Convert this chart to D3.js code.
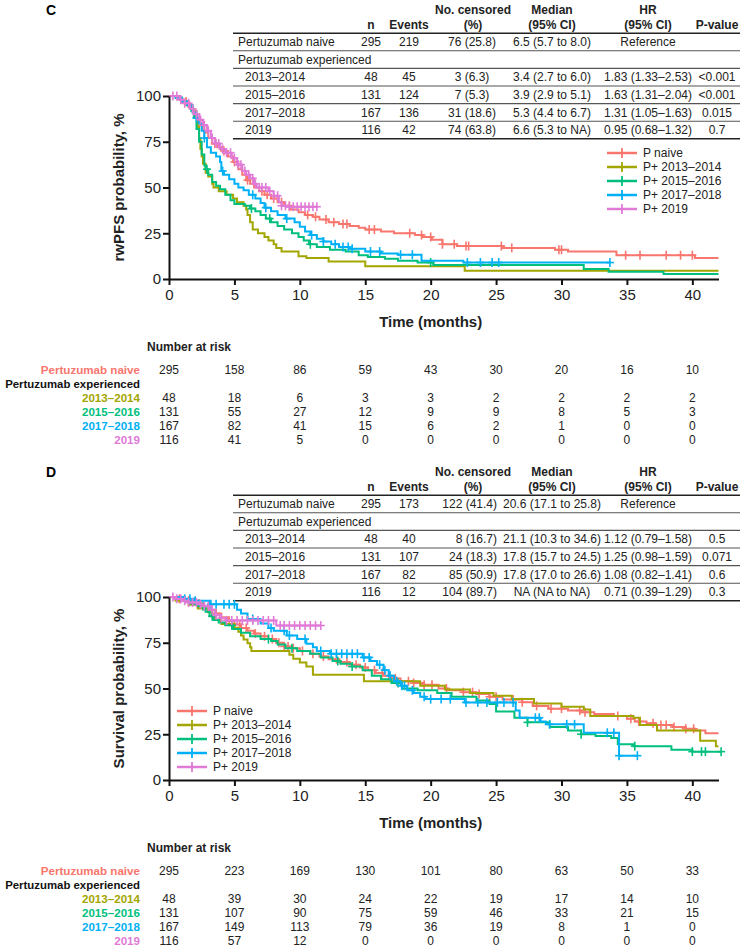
<!DOCTYPE html>
<html><head><meta charset="utf-8">
<script src="https://cdn.jsdelivr.net/npm/d3@7"></script>
<style>
body{margin:0;background:#fff}
svg{display:block}
text{font-family:"Liberation Sans",Arial,Helvetica,sans-serif}
</style>
</head><body>
<svg id="chart" width="742" height="950"></svg>
<script>
// ---------------- DATA ----------------
const seriesNames = ["P naive", "P+ 2013\u20132014", "P+ 2015\u20132016", "P+ 2017\u20132018", "P+ 2019"];
const riskLabels = ["Pertuzumab naive", "2013\u20132014", "2015\u20132016", "2017\u20132018", "2019"];
const seriesColors = ["#F8766D", "#A3A500", "#00BF7D", "#00B0F6", "#E07AD6"];
const timeTicks = [0, 5, 10, 15, 20, 25, 30, 35, 40];
const survTicks = [0, 25, 50, 75, 100];

const tableHeader1 = ["", "", "", "No. censored", "Median", "HR", ""];
const tableHeader2 = ["", "n", "Events", "(%)", "(95% CI)", "(95% CI)", "P-value"];

const pfsTable = [
  ["Pertuzumab naive", "295", "219", "76 (25.8)", "6.5 (5.7 to 8.0)", "Reference", ""],
  ["Pertuzumab experienced"],
  ["2013\u20132014", "48", "45", "3 (6.3)", "3.4 (2.7 to 6.0)", "1.83 (1.33\u20132.53)", "<0.001"],
  ["2015\u20132016", "131", "124", "7 (5.3)", "3.9 (2.9 to 5.1)", "1.63 (1.31\u20132.04)", "<0.001"],
  ["2017\u20132018", "167", "136", "31 (18.6)", "5.3 (4.4 to 6.7)", "1.31 (1.05\u20131.63)", "0.015"],
  ["2019", "116", "42", "74 (63.8)", "6.6 (5.3 to NA)", "0.95 (0.68\u20131.32)", "0.7"]
];
const osTable = [
  ["Pertuzumab naive", "295", "173", "122 (41.4)", "20.6 (17.1 to 25.8)", "Reference", ""],
  ["Pertuzumab experienced"],
  ["2013\u20132014", "48", "40", "8 (16.7)", "21.1 (10.3 to 34.6)", "1.12 (0.79\u20131.58)", "0.5"],
  ["2015\u20132016", "131", "107", "24 (18.3)", "17.8 (15.7 to 24.5)", "1.25 (0.98\u20131.59)", "0.071"],
  ["2017\u20132018", "167", "82", "85 (50.9)", "17.8 (17.0 to 26.6)", "1.08 (0.82\u20131.41)", "0.6"],
  ["2019", "116", "12", "104 (89.7)", "NA (NA to NA)", "0.71 (0.39\u20131.29)", "0.3"]
];

const pfsRisk = [
  [295, 158, 86, 59, 43, 30, 20, 16, 10],
  [48, 18, 6, 3, 3, 2, 2, 2, 2],
  [131, 55, 27, 12, 9, 9, 8, 5, 3],
  [167, 82, 41, 15, 6, 2, 1, 0, 0],
  [116, 41, 5, 0, 0, 0, 0, 0, 0]
];
const osRisk = [
  [295, 223, 169, 130, 101, 80, 63, 50, 33],
  [48, 39, 30, 24, 22, 19, 17, 14, 10],
  [131, 107, 90, 75, 59, 46, 33, 21, 15],
  [167, 149, 113, 79, 36, 19, 8, 1, 0],
  [116, 57, 12, 0, 0, 0, 0, 0, 0]
];

// Kaplan-Meier steps [time (months), survival %] for rwPFS (panel C)
const pfsNaive = [[0,100],[0.5,99],[1.0,97],[1.4,95],[1.8,92],[2.1,88],[2.4,84],[2.7,80],[3.0,77],[3.3,74],[3.7,72],[4.1,70],[4.5,67],[4.9,64],[5.3,60],[5.6,57],[5.9,54],[6.2,52],[6.5,50],[6.9,48],[7.3,46],[7.8,44],[8.3,42],[8.8,40],[9.3,38],[9.9,36.5],[10.4,35],[11.0,34],[11.5,32.5],[12.2,31],[13.0,30],[13.8,29],[14.5,28],[15.0,27],[16.2,26],[17.2,25],[18.8,24],[19.4,23],[20.1,21.5],[20.9,19],[22.0,18],[25.5,17],[29.5,16],[30.5,15],[34.2,13],[40.2,11.5]];
const pfs1314 = [[0,100],[0.8,98],[1.2,96],[1.5,94],[1.8,92],[2.0,88],[2.2,83],[2.3,77],[2.4,71],[2.5,67],[2.6,63],[2.8,58],[3.0,56],[3.3,52],[3.4,50],[3.8,48],[4.4,46],[4.9,44],[5.2,42],[5.7,40],[5.9,38],[6.0,35],[6.2,31],[6.4,27],[6.8,25],[7.3,23],[7.6,21],[8.0,19],[8.2,17],[8.6,15],[9.9,12.5],[10.5,11.5],[12.2,9.5],[15.0,7],[22.6,4.5]];
const pfs1516 = [[0,100],[0.6,99],[1.0,97],[1.4,95],[1.7,92],[1.9,88],[2.1,82],[2.3,75],[2.5,68],[2.7,62],[2.8,60],[3.0,57],[3.3,53],[3.6,51],[3.9,49],[4.3,46],[4.7,43],[5.0,41],[5.8,40],[6.2,38.5],[6.6,37],[7.0,35],[7.4,33],[7.8,31],[8.3,29],[8.8,27],[9.4,25],[9.9,23],[10.3,21],[10.7,19],[11.3,17.5],[12.3,16],[13.5,15],[14.5,13],[15.2,12],[16.5,11],[17.5,10],[19.0,9],[20.2,7.7],[31.7,5.5],[33.6,4],[37.8,2.8]];
const pfs1718 = [[0,100],[0.5,99],[1.0,97],[1.4,95],[1.8,91],[2.1,88],[2.3,85],[2.5,81],[2.7,77],[2.9,72],[3.2,69],[3.6,67],[3.9,64],[4.0,59],[4.2,57],[4.6,54.5],[5.0,52],[5.3,50],[5.7,48.5],[6.1,46],[6.6,44],[7.0,41.5],[7.3,39],[7.8,37],[8.3,35],[8.9,33],[9.6,31],[10.0,28.5],[10.4,26],[10.8,24],[11.3,22],[11.8,20.5],[12.4,19],[13.0,17.5],[13.8,16.5],[15.0,15],[16.2,14],[17.5,13.3],[19.3,10],[22.5,9]];
const pfs2019 = [[0,100],[0.8,98],[1.2,96],[1.6,93],[1.9,90],[2.3,87],[2.6,84],[2.9,81],[3.2,77],[3.5,74],[3.9,71],[4.3,69],[4.8,66],[5.2,62.5],[5.6,59],[5.9,57],[6.2,55],[6.5,52],[6.7,50],[7.6,48],[8.0,45.5],[8.4,42],[8.6,40],[9.0,39.5]];
const pfsEnds = [42, 42, 42, 33.7, 11.4];

const pfsCensNaive = [1.3,2.6,3.5,4.2,5.0,6.0,7.1,7.5,8.0,8.6,9.2,10.6,11.2,12.0,12.6,13.3,13.6,15.3,15.7,18.4,19.3,20.0,20.9,21.8,22.7,22.9,25.4,26.2,29.8,30.0,34.9,36.0,38.0,39.1,40.0];
const pfsCens1314 = [];
const pfsCens1516 = [2.9,6.3,7.7,10.8,20.0];
const pfsCens1718 = [2.1,2.7,4.1,6.4,7.4,9.0,10.9,11.8,12.7,13.3,13.7,14.0,15.4,16.1,17.7,18.6,22.8,23.8,24.7,25.2,33.7];
const pfsCens2019 = [0.3,0.6,0.9,1.2,1.5,1.8,2.1,2.4,2.7,3.0,3.3,3.6,3.8,4.1,4.4,4.7,5.0,5.3,5.5,5.8,6.1,6.4,6.6,6.9,7.1,7.4,7.7,8.0,8.3,8.6,8.9,9.2,9.5,9.8,10.1,10.4,10.7,11.0,11.3];

// Kaplan-Meier steps for overall survival (panel D)
const osNaive = [[0,100],[0.6,99],[1.2,98],[1.8,96.5],[2.5,95],[3.0,93],[3.5,91],[4.0,89],[4.5,87],[5.0,85],[5.5,83],[6.0,81.5],[6.5,80],[7.0,78.5],[7.6,77],[8.2,75],[8.8,73],[9.4,72],[10.0,70.5],[10.8,69],[11.5,67.5],[12.2,66],[13.0,64.5],[13.8,63],[14.6,61.5],[15.2,60],[15.8,58.5],[16.4,57],[17.0,55.5],[17.7,54],[18.7,53],[19.5,52],[20.6,50],[21.3,49],[22.5,48],[23.5,47],[24.5,45.5],[25.5,44],[27.0,42.5],[27.8,40.5],[29.0,39],[30.5,38],[31.5,37],[32.5,36],[34.0,35],[35.0,33.5],[35.6,32],[36.5,31],[37.2,30],[38.5,29],[39.5,28],[40.2,27],[41.0,25.5]];
const os1314 = [[0,100],[0.5,97.9],[1.5,95.8],[2.2,93.7],[3.0,91.6],[3.3,89.5],[3.5,87.4],[4.0,85.3],[5.0,83.2],[5.3,81],[5.5,78.9],[5.7,76.8],[6.0,74.7],[6.2,72.6],[6.3,70.5],[9.2,68.4],[9.5,66.3],[10.0,64.2],[10.5,62],[11.0,57.5],[14.9,54],[19.2,51.5],[21.1,49.5],[23.0,47.5],[24.8,46],[26.2,44.2],[27.9,41.8],[30.0,40],[31.7,38.5],[32.2,35],[35.5,34],[36.0,30],[37.3,27],[40.6,21.5],[41.8,18.5]];
const os1516 = [[0,100],[0.5,99],[1.0,98],[1.6,96.5],[2.2,95],[2.8,92],[3.1,89.5],[3.4,87.5],[3.8,86],[4.3,84.5],[4.9,82.5],[5.5,80.5],[6.2,78.5],[7.0,77],[7.8,76],[8.3,74],[8.9,72],[9.8,70.5],[10.8,69],[11.6,67],[12.5,65],[13.1,63.5],[14.0,62],[14.8,60],[15.5,57],[16.2,55],[17.0,53],[17.8,50],[19.0,49],[20.5,47.5],[21.6,45.5],[23.5,43.5],[24.5,41.5],[25.0,37.5],[26.4,34],[27.4,31.5],[29.1,29],[30.5,27],[31.5,25],[32.6,24],[33.8,23],[34.3,19.5],[35.5,18.5],[38.4,16.5],[40.0,15.5]];
const os1718 = [[0,100],[1.2,99],[2.0,98],[3.1,96],[5.2,93],[5.5,91],[6.0,88],[7.0,85.5],[7.6,83],[8.0,81.5],[9.0,79],[9.8,77],[10.5,74.5],[11.0,72.5],[11.3,70.5],[12.3,69],[14.8,67],[15.4,65],[15.9,63],[16.4,60],[16.8,57],[17.2,54],[17.7,51.5],[18.2,49],[18.7,47.5],[19.2,45.5],[19.6,44.2],[22.6,42.4],[26.5,38],[26.8,34],[28.4,32],[28.8,30.4],[31.7,25.8],[34.4,13.3]];
const os2019 = [[0,100],[0.5,99],[1.0,98],[1.5,97],[2.3,96],[2.7,95],[3.1,93],[3.5,90],[3.9,88.5],[4.3,87.2],[8.2,84.4]];
const osEnds = [42, 42, 42.2, 35.8, 11.6];

const osCensNaive = [0.8,1.5,2.3,3.6,4.6,5.4,5.9,6.6,7.3,7.9,8.4,8.8,9.1,9.5,10.2,11.0,11.8,12.8,13.6,14.3,15.0,15.7,16.3,16.8,17.3,18.3,18.7,19.5,20.1,21.2,22.5,23.2,23.7,24.5,25.0,26.3,27.0,28.1,29.2,30.0,31.4,31.8,34.3,35.3,35.9,37.0,37.6,38.0,38.6,39.5,40.1];
const osCens1314 = [];
const osCens1516 = [2.6,3.3,4.8,7.6,9.4,12.9,14.0,17.5,27.4,31.5,35.6,40.0,40.7,41.0,42.2];
const osCens1718 = [1.2,1.6,2.0,3.2,3.6,4.2,4.6,5.0,6.4,7.8,8.8,9.2,10.4,11.6,12.4,12.8,13.2,13.6,14.0,14.4,14.9,15.3,16.1,16.5,16.9,17.4,17.8,18.0,18.6,19.5,20.0,20.8,21.5,22.7,23.6,24.3,25.1,25.6,26.3,28.0,28.3,29.1,30.4,31.0,33.5,34.0,34.4,35.8];
const osCens2019 = [0.3,0.6,0.9,1.2,1.5,1.8,2.1,2.4,2.7,3.0,3.3,3.6,4.0,4.4,4.8,5.2,5.6,6.0,6.4,6.8,7.2,7.6,8.0,8.5,8.8,9.2,9.6,10.0,10.4,10.8,11.2,11.6];

// ---------------- DRAWING ----------------
const svg = d3.select("#chart");
const FONT = '"Liberation Sans",Arial,Helvetica,sans-serif';
const x = d3.scaleLinear().domain([0, 42]).range([169, 718.5]);

function stepVal(steps, t) {
  let v = steps[0][1];
  for (const s of steps) { if (s[0] <= t) v = s[1]; else break; }
  return v;
}

function drawPanel(cfg) {
  const g = svg.append("g");
  const tOff = cfg.tableOff, pOff = cfg.plotOff;

  // panel letter
  g.append("text").attr("x", 46).attr("y", 10 + tOff).attr("dy", "0.35em")
    .attr("font-size", 14).attr("font-weight", "bold").text(cfg.letter);

  // ---- summary table ----
  const colX = [null, 371, 409, cfg.censAlignX, 552, 648, 717];
  const hdrX = [null, 371, 409, 473, 552, 648, 717];
  tableHeader1.forEach((h, i) => {
    if (!h) return;
    g.append("text").attr("x", hdrX[i]).attr("y", 10 + tOff).attr("dy", "0.35em")
      .attr("text-anchor", "middle").attr("font-size", 12).attr("font-weight", "bold")
      .attr("fill", "#222").text(h);
  });
  tableHeader2.forEach((h, i) => {
    if (!h) return;
    g.append("text").attr("x", hdrX[i]).attr("y", 24.5 + tOff).attr("dy", "0.35em")
      .attr("text-anchor", "middle").attr("font-size", 12).attr("font-weight", "bold")
      .attr("fill", "#222").text(h);
  });
  const rowH = 17.6, row0 = 42 + tOff;
  const ruleYs = d3.range(cfg.table.length + 1).map(i => row0 - rowH / 2 + i * rowH);
  ruleYs.forEach((ry, i) => {
    const edge = (i === 0 || i === ruleYs.length - 1);
    g.append("line").attr("x1", 233).attr("x2", 740).attr("y1", ry).attr("y2", ry)
      .attr("stroke", edge ? "#222" : "#555").attr("stroke-width", edge ? 1.6 : 1.1);
  });
  cfg.table.forEach((row, r) => {
    const ry = row0 + r * rowH;
    row.forEach((cell, c) => {
      if (!cell) return;
      let xx, anchor = "middle";
      if (c === 0) { xx = (r >= 2) ? 245 : 238; anchor = "start"; }
      else { xx = colX[c]; if (c === 3) anchor = cfg.censAnchor; }
      g.append("text").attr("x", xx).attr("y", ry).attr("dy", "0.35em")
        .attr("text-anchor", anchor).attr("font-size", 12).attr("fill", "#222").text(cell);
    });
  });

  // ---- plot ----
  const y = d3.scaleLinear().domain([0, 100]).range([279 + pOff, 96 + pOff]);

  const line = d3.line().x(d => x(d[0])).y(d => y(d[1])).curve(d3.curveStepAfter);
  cfg.steps.forEach((st, i) => {
    const pts = st.concat([[cfg.ends[i], st[st.length - 1][1]]]);
    g.append("path").attr("d", line(pts)).attr("fill", "none")
      .attr("stroke", seriesColors[i]).attr("stroke-width", 2);
    const cg = g.append("g").attr("stroke", seriesColors[i]).attr("stroke-width", 1.6);
    cfg.censors[i].forEach(t => {
      const cx = x(t), cy = y(stepVal(st, t));
      cg.append("line").attr("x1", cx).attr("x2", cx).attr("y1", cy - 4.5).attr("y2", cy + 4.5);
      cg.append("line").attr("x1", cx - 4).attr("x2", cx + 4).attr("y1", cy).attr("y2", cy);
    });
  });

  // axes
  const yAxis = g.append("g").attr("transform", `translate(${x(0)},0)`)
    .call(d3.axisLeft(y).tickValues(survTicks).tickSize(6).tickSizeOuter(0).tickPadding(2));
  const xAxis = g.append("g").attr("transform", `translate(0,${y(0)})`)
    .call(d3.axisBottom(x).tickValues(timeTicks).tickSize(6).tickSizeOuter(0).tickPadding(4));
  [yAxis, xAxis].forEach(a => {
    a.select(".domain").attr("stroke", "#111").attr("stroke-width", 2);
    a.selectAll(".tick line").attr("stroke", "#111").attr("stroke-width", 2);
    a.selectAll(".tick text").attr("font-size", 15).attr("font-family", FONT).attr("fill", "#222");
  });

  g.append("text").attr("transform", `translate(119,${y(50)}) rotate(-90)`)
    .attr("text-anchor", "middle").attr("dy", "0.35em")
    .attr("font-size", 15).attr("font-weight", "bold").attr("fill", "#222").text(cfg.yTitle);
  g.append("text").attr("x", x(20)).attr("y", 322 + pOff).attr("dy", "0.35em")
    .attr("text-anchor", "middle").attr("font-size", 15).attr("font-weight", "bold")
    .attr("fill", "#222").text("Time (months)");

  // legend
  seriesNames.forEach((nm, i) => {
    const ly = cfg.legY + i * 14;
    const lx = cfg.legX;
    g.append("line").attr("x1", lx).attr("x2", lx + 30).attr("y1", ly).attr("y2", ly)
      .attr("stroke", seriesColors[i]).attr("stroke-width", 2.5);
    g.append("line").attr("x1", lx + 15).attr("x2", lx + 15).attr("y1", ly - 5).attr("y2", ly + 5)
      .attr("stroke", seriesColors[i]).attr("stroke-width", 1.8);
    g.append("text").attr("x", lx + 36).attr("y", ly).attr("dy", "0.35em")
      .attr("font-size", 12).attr("fill", "#222").text(nm);
  });

  // number at risk
  g.append("text").attr("x", 147).attr("y", 347 + pOff).attr("dy", "0.35em")
    .attr("font-size", 12).attr("font-weight", "bold").attr("fill", "#222").text("Number at risk");
  const riskY = [370, 398, 412, 426, 440].map(v => v + pOff);
  g.append("text").attr("x", 140).attr("y", 384 + pOff).attr("dy", "0.35em")
    .attr("text-anchor", "end").attr("font-size", 11.4).attr("font-weight", "bold")
    .attr("fill", "#111").text("Pertuzumab experienced");
  cfg.risk.forEach((vals, i) => {
    g.append("text").attr("x", 140).attr("y", riskY[i]).attr("dy", "0.35em")
      .attr("text-anchor", "end").attr("font-size", 11.6).attr("font-weight", "bold")
      .attr("fill", seriesColors[i]).text(riskLabels[i]);
    vals.forEach((v, j) => {
      g.append("text").attr("x", x(timeTicks[j])).attr("y", riskY[i]).attr("dy", "0.35em")
        .attr("text-anchor", "middle").attr("font-size", 12).attr("fill", "#222").text(v);
    });
  });
}

drawPanel({
  letter: "C", yTitle: "rwPFS probability, %", table: pfsTable, risk: pfsRisk,
  steps: [pfsNaive, pfs1314, pfs1516, pfs1718, pfs2019], ends: pfsEnds,
  censors: [pfsCensNaive, pfsCens1314, pfsCens1516, pfsCens1718, pfsCens2019],
  tableOff: 0, plotOff: 0, legX: 607, legY: 153, censAlignX: 472, censAnchor: "middle"
});
drawPanel({
  letter: "D", yTitle: "Survival probability, %", table: osTable, risk: osRisk,
  steps: [osNaive, os1314, os1516, os1718, os2019], ends: osEnds,
  censors: [osCensNaive, osCens1314, osCens1516, osCens1718, osCens2019],
  tableOff: 462, plotOff: 501, legX: 177, legY: 711, censAlignX: 497, censAnchor: "end"
});
</script>
</body></html>
